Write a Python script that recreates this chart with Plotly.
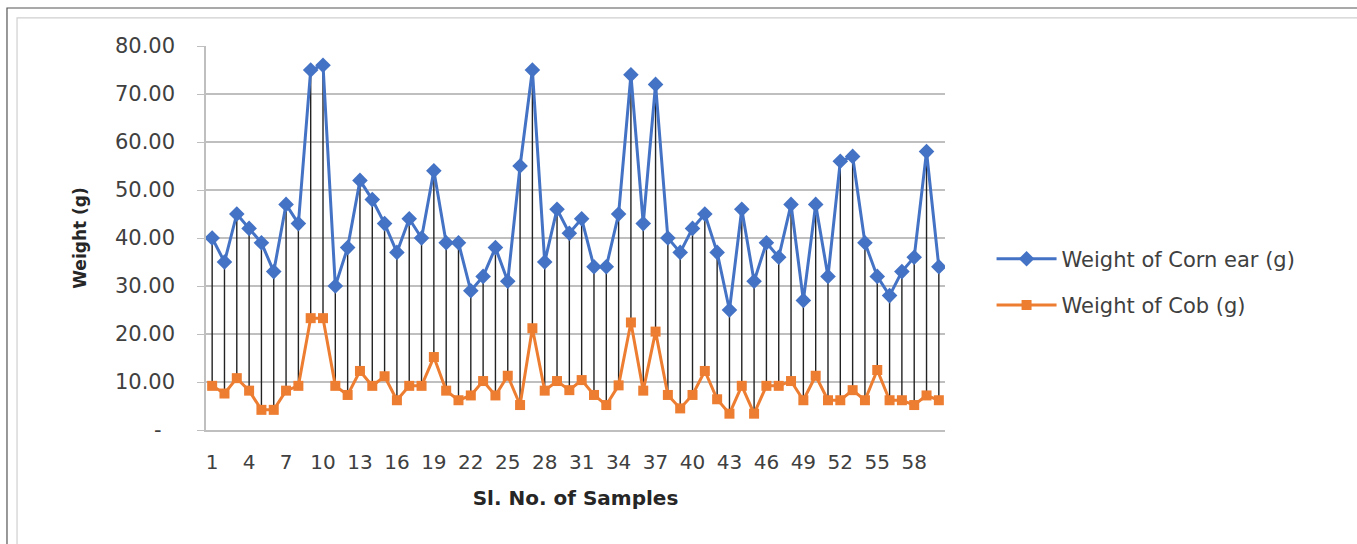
import plotly.graph_objects as go

samples = list(range(1, 61))
corn_ear = [40, 35, 45, 42, 39, 33, 47, 43, 75, 76,
            30, 38, 52, 48, 43, 37, 44, 40, 54, 39,
            39, 29, 32, 38, 31, 55, 75, 35, 46, 41,
            44, 34, 34, 45, 74, 43, 72, 40, 37, 42,
            45, 37, 25, 46, 31, 39, 36, 47, 27, 47,
            32, 56, 57, 39, 32, 28, 33, 36, 58, 34]
cob = [9.2, 7.6, 10.8, 8.2, 4.2, 4.2, 8.2, 9.2, 23.3, 23.3,
       9.2, 7.3, 12.3, 9.2, 11.2, 6.2, 9.2, 9.2, 15.2, 8.2,
       6.2, 7.2, 10.2, 7.2, 11.3, 5.2, 21.2, 8.2, 10.2, 8.3,
       10.4, 7.3, 5.2, 9.3, 22.4, 8.2, 20.5, 7.3, 4.5, 7.3,
       12.3, 6.4, 3.4, 9.2, 3.4, 9.2, 9.2, 10.2, 6.2, 11.3,
       6.2, 6.2, 8.3, 6.2, 12.5, 6.2, 6.2, 5.2, 7.2, 6.2]
x_ticks = list(range(1, 61, 3))
y_ticks = [0, 10, 20, 30, 40, 50, 60, 70, 80]
y_ticktext = ["-\u00a0\u00a0"] + ["%.2f" % v for v in y_ticks[1:]]

FONT = "'DejaVu Sans', sans-serif"

# high-low lines
hx, hy = [], []
for s, a, b in zip(samples, corn_ear, cob):
    hx += [s, s, None]
    hy += [b, a, None]

fig = go.Figure()
fig.add_trace(go.Scatter(x=hx, y=hy, mode="lines",
                         line=dict(color="#222222", width=1.4),
                         showlegend=False, hoverinfo="skip"))
fig.add_trace(go.Scatter(x=samples, y=corn_ear, mode="lines+markers",
                         name="Weight of Corn ear (g)", legendgroup="a",
                         line=dict(color="#4472C4", width=3),
                         marker=dict(symbol="diamond", size=12, color="#4472C4")))
fig.add_trace(go.Scatter(x=samples, y=cob, mode="lines+markers",
                         name="Weight of Cob (g)", legendgroup="b",
                         line=dict(color="#ED7D31", width=3),
                         marker=dict(symbol="square", size=10, color="#ED7D31")))

fig.update_layout(
    width=1357, height=544,
    margin=dict(l=206, r=412, t=46, b=114),
    paper_bgcolor="white", plot_bgcolor="white",
    font=dict(family=FONT, size=20, color="#404040"),
    legend=dict(x=1.063, y=0.385, xanchor="left", yanchor="middle",
                font=dict(size=21, color="#404040"),
                traceorder="grouped", tracegroupgap=16, itemwidth=60,
                bgcolor="rgba(0,0,0,0)"),
    shapes=[dict(type="rect", xref="paper", yref="paper",
                 x0=-0.2693, x1=1.6, y0=-0.4, y1=1.099,
                 line=dict(color="#555555", width=1.2)),
            dict(type="rect", xref="paper", yref="paper",
                 x0=-0.2557, x1=1.6, y0=-0.4, y1=1.073,
                 line=dict(color="#d0d0d0", width=1.2))],
)
fig.update_xaxes(range=[0.5, 60.5], tickvals=x_ticks, showgrid=False,
                 showline=True, linecolor="#bfbfbf", linewidth=1.5,
                 ticks="", ticklabelstandoff=13, zeroline=False,
                 tickfont=dict(size=20, color="#404040"),
                 title=dict(text="<b>Sl. No. of Samples</b>", font=dict(size=20, color="#262626"),
                            standoff=18))
fig.update_yaxes(range=[0, 80], tickvals=y_ticks, ticktext=y_ticktext,
                 showgrid=True, gridcolor="#bfbfbf", gridwidth=1.5,
                 showline=True, linecolor="#bfbfbf", linewidth=1.5,
                 ticks="outside", ticklen=7, tickcolor="#bfbfbf",
                 ticklabelstandoff=18, zeroline=False,
                 tickfont=dict(size=21, color="#404040"),
                 title=dict(text="<b>Weight (g)</b>", font=dict(size=17, color="#262626"),
                            standoff=24))

fig.write_html("out.html")
